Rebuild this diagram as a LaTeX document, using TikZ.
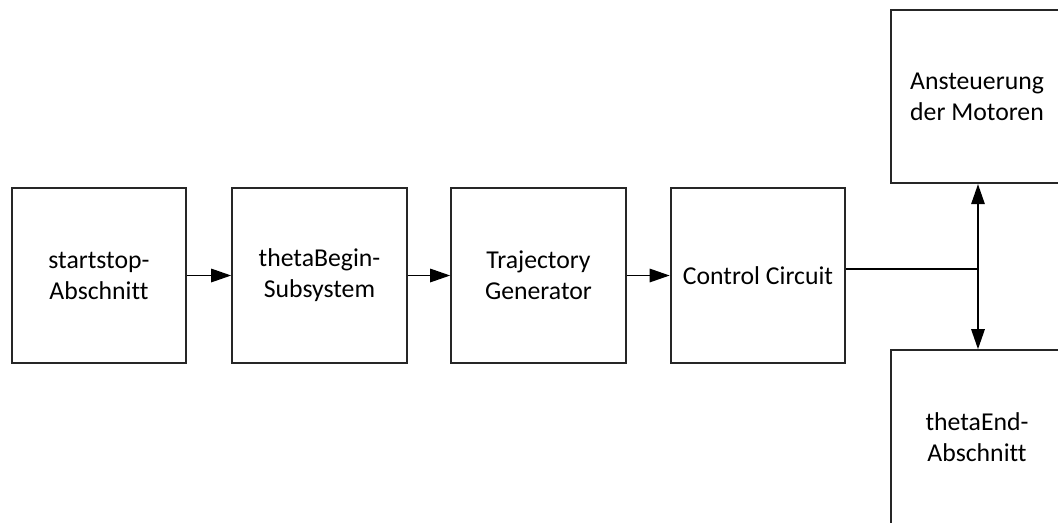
\documentclass[tikz,border=0pt]{standalone}
\usepackage{fontspec}
\setmainfont{Carlito}[Ligatures=NoCommon]
\usetikzlibrary{arrows.meta}
\begin{document}
\begin{tikzpicture}[x=0.75pt,y=-0.75pt,
  block/.style={draw=black!85, line width=1.4pt, fill=white, align=center,
    inner sep=0pt, minimum width=131pt, minimum height=131.5pt,
    font=\fontsize{19.3pt}{23.3pt}\selectfont},
  link/.style={draw=black, line width=1.4pt},
  flow/.style={link, -{Triangle[length=15pt,width=10pt]}}]
  \useasboundingbox (0,0) rectangle (1058,522);
  \begin{scope}
    \clip (0,0) rectangle (1058,522);
    % processing chain
    \node[block] (ss) at (99,275.5) {startstop-\\Abschnitt};
    \node[block] (tb) at (319.5,275.5) {thetaBegin-\\Subsystem};
    \node[block] (tg) at (538.5,275.5) {Trajectory\\Generator};
    \node[block] (cc) at (758,275.5) {Control Circuit};
    % outputs on the right
    \node[block, minimum width=129pt, minimum height=130pt] (mot) at (977,96.5) {Ansteuerung\\der Motoren};
    \node[block, minimum width=129pt, minimum height=131pt] (te) at (977,437.5) {thetaEnd-\\Abschnitt};
    % connectors
    \draw[flow] (ss) -- (tb);
    \draw[flow] (tb) -- (tg);
    \draw[flow] (tg) -- (cc);
    \coordinate (j) at (978,269);
    \draw[link] (j -| cc.east) -- (j);
    \draw[flow] (j) -- (j |- mot.south);
    \draw[flow] (j) -- (j |- te.north);
  \end{scope}
\end{tikzpicture}
\end{document}
